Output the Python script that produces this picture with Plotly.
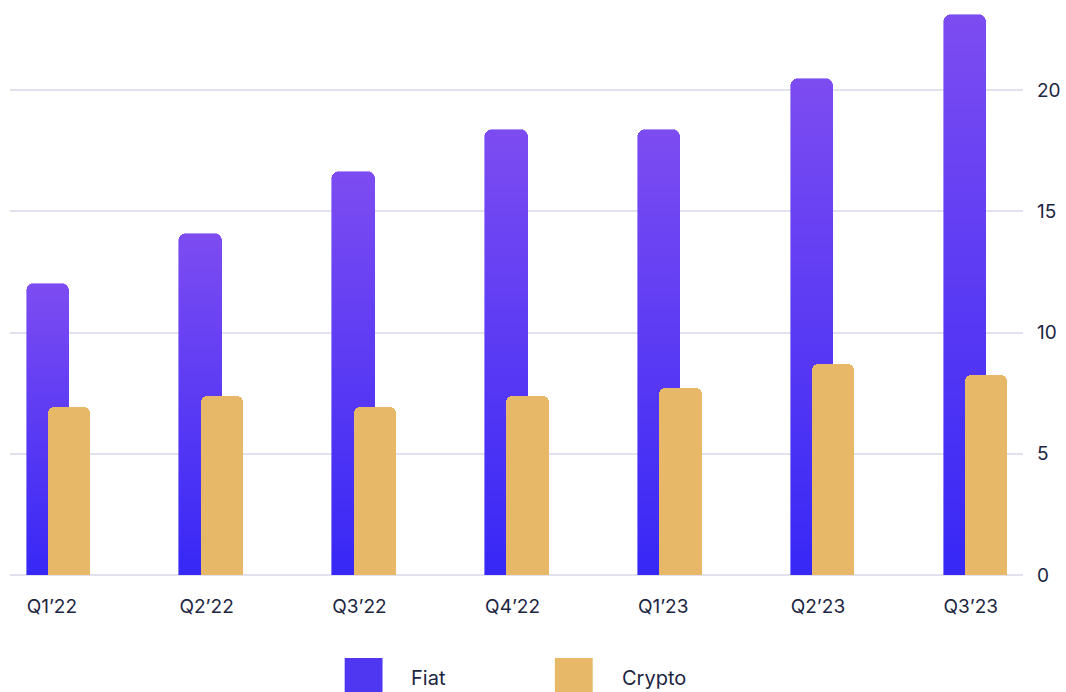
import plotly.graph_objects as go

# quarterly volumes
quarters = ["Q1’22", "Q2’22", "Q3’22", "Q4’22", "Q1’23", "Q2’23", "Q3’23"]
fiat = [12.0, 14.05, 16.6, 18.35, 18.35, 20.45, 23.1]
crypto = [6.93, 7.37, 6.93, 7.38, 7.71, 8.7, 8.25]
y_ticks = [0, 5, 10, 15, 20]

W, H = 1066, 692
ML, MR, MT, MB = 10, 39, 5, 117
TEXT = "#1c2541"
GRID = "#e1e1ef"
FONT = "Inter, Lato, sans-serif"

# fiat bars get a vertical gradient -> stack thin slices of each bar
N_SLICES = 60
top_rgb = (124, 76, 241)
bot_rgb = (56, 40, 246)

BAR_W = 0.278

fig = go.Figure()
for k in range(N_SLICES):
    t = k / (N_SLICES - 1)
    rgb = tuple(round(b + (a - b) * t) for a, b in zip(top_rgb, bot_rgb))
    col = "rgb(%d,%d,%d)" % rgb
    fig.add_trace(go.Bar(
        x=quarters, y=[v / N_SLICES for v in fiat],
        width=BAR_W, offset=0,
        marker=dict(color=col, line=dict(width=0.6, color=col), cornerradius=7),
        showlegend=False, hoverinfo="skip",
    ))

fig.add_trace(go.Bar(
    x=quarters, y=crypto, xaxis="x2",
    width=BAR_W, offset=BAR_W / 2,
    marker=dict(color="#e6b868", line=dict(width=0), cornerradius=6),
    name="Crypto", showlegend=False,
))

x_range = [-0.109, 6.52]
fig.update_layout(
    width=W, height=H,
    margin=dict(l=ML, r=MR, t=MT, b=MB),
    paper_bgcolor="white", plot_bgcolor="white",
    barmode="stack", bargap=0,
    showlegend=False,
    font=dict(family=FONT, size=19, color=TEXT),
    xaxis=dict(type="category", categoryorder="array", categoryarray=quarters,
               range=x_range, showgrid=False, zeroline=False, showline=False,
               ticks="", ticklabelposition="outside right", ticklabelstandoff=18,
               tickfont=dict(size=19, color=TEXT)),
    xaxis2=dict(type="category", categoryorder="array", categoryarray=quarters,
                range=x_range, overlaying="x", visible=False),
    yaxis=dict(side="right", range=[0, 23.505], tickvals=y_ticks,
               showgrid=True, gridcolor=GRID, gridwidth=1.5,
               zeroline=True, zerolinecolor=GRID, zerolinewidth=1.5,
               showline=False, ticks="", ticklabelstandoff=13,
               tickfont=dict(size=19, color=TEXT)),
)

# custom legend with large swatches at the bottom
plot_w = W - ML - MR
plot_h = H - MT - MB


def px_x(p):
    return (p - ML) / plot_w


def px_y(p):
    return (H - MB - p) / plot_h


legend_items = [("Fiat", "#4f37f2", 346, 411), ("Crypto", "#e6b868", 557, 622)]
for label, col, sx, tx in legend_items:
    fig.add_shape(type="rect", xref="paper", yref="paper",
                  x0=px_x(sx), x1=px_x(sx + 38), y0=px_y(658), y1=px_y(696),
                  fillcolor=col, line=dict(width=0), layer="above")
    fig.add_annotation(xref="paper", yref="paper", x=px_x(tx), y=px_y(678),
                       text=label, showarrow=False, xanchor="left", yanchor="middle",
                       font=dict(size=20, color=TEXT, family=FONT))

# drop the browser's default body margin so the figure sits at 0,0
fig.write_html("out.html", config={"displayModeBar": False},
               post_script="document.body.style.margin='0';")
